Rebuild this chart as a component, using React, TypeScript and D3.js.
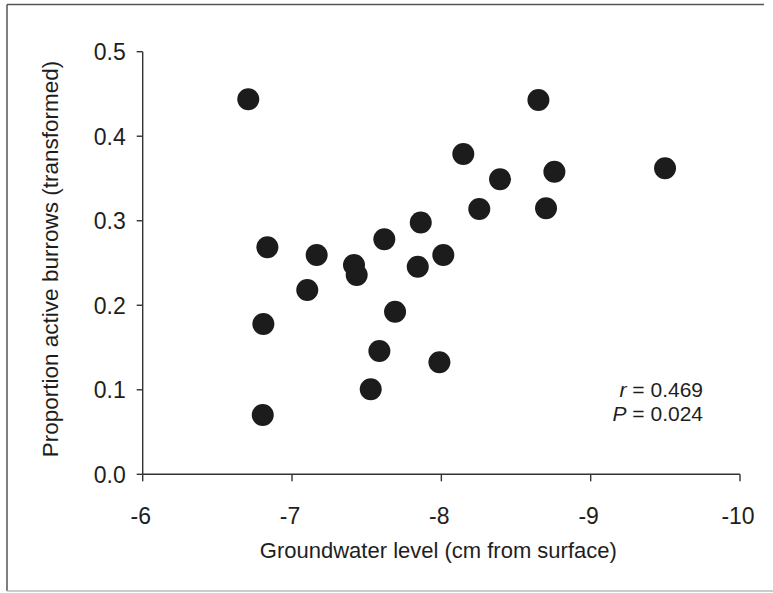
import React from "react";
import * as d3 from "d3";

const groundwater: number[] = [
  -6.707, -8.65, -8.147, -9.498, -8.393, -8.757, -8.254, -8.701, -7.862, -7.618,
  -6.835, -7.165, -7.415, -7.433, -7.842, -8.013, -7.102, -6.808, -7.69, -7.585,
  -7.987, -7.527, -6.804,
];
const activeBurrows: number[] = [
  0.4437, 0.4429, 0.379, 0.362, 0.349, 0.358, 0.314, 0.3147, 0.298, 0.278,
  0.2686, 0.2595, 0.2476, 0.2358, 0.2456, 0.2595, 0.218, 0.1778, 0.1924, 0.1459,
  0.1325, 0.1006, 0.0702,
];
const xTicks: number[] = [-6, -7, -8, -9, -10];
const yTicks: number[] = [0, 0.1, 0.2, 0.3, 0.4, 0.5];
const xLabel = "Groundwater level (cm from surface)";
const yLabel = "Proportion active burrows (transformed)";
const statR = "0.469";
const statP = "0.024";

const W = 773;
const H = 593;
const FONT = "'Liberation Sans', Arial, Helvetica, sans-serif";
const INK = "#1e1e1e";

export default function App() {
  const x = d3.scaleLinear().domain([-6, -10]).range([142.7, 740]);
  const y = d3.scaleLinear().domain([0, 0.5]).range([474.3, 51.7]);
  const points = groundwater.map((g, i) => ({ g, p: activeBurrows[i] }));
  const x0 = x(-6);
  const y0 = y(0);

  return (
    <svg
      width={W}
      height={H}
      style={{ position: "absolute", left: 0, top: 0, background: "#fff" }}
      fontFamily={FONT}
    >
      <rect x={0} y={0} width={W} height={H} fill="#fff" />
      {/* outer frame */}
      <line x1={7} y1={4.5} x2={764} y2={4.5} stroke="#555" strokeWidth={1.5} />
      <line x1={7} y1={4.5} x2={7} y2={591} stroke="#555" strokeWidth={1.5} />
      <line x1={7} y1={591} x2={773} y2={591} stroke="#bbb" strokeWidth={1.5} />

      {/* y axis */}
      <line x1={x0} y1={y(0.5)} x2={x0} y2={y0} stroke="#333" strokeWidth={1.4} />
      {yTicks.map((t) => (
        <g key={"y" + t}>
          <line x1={x0 - 6} x2={x0} y1={y(t)} y2={y(t)} stroke="#333" strokeWidth={1.4} />
          <text
            x={x0 - 17}
            y={y(t)}
            dy="0.36em"
            textAnchor="end"
            fontSize={23}
            fill={INK}
          >
            {t.toFixed(1)}
          </text>
        </g>
      ))}

      {/* x axis */}
      <line x1={x0} y1={y0} x2={x(-10)} y2={y0} stroke="#333" strokeWidth={1.4} />
      {xTicks.map((t) => (
        <g key={"x" + t}>
          <line x1={x(t)} x2={x(t)} y1={y0} y2={y0 + 7} stroke="#333" strokeWidth={1.4} />
          <text x={x(t) - 2} y={523.5} textAnchor="middle" fontSize={23} fill={INK}>
            {String(t)}
          </text>
        </g>
      ))}

      {/* axis titles */}
      <text x={(x0 + x(-10)) / 2 - 3} y={558} textAnchor="middle" fontSize={22} fill={INK}>
        {xLabel}
      </text>
      <text
        transform={`translate(57.5,${259}) rotate(-90)`}
        textAnchor="middle"
        fontSize={22.5}
        fill={INK}
      >
        {yLabel}
      </text>

      {/* points */}
      {points.map((d, i) => (
        <circle key={i} cx={x(d.g)} cy={y(d.p)} r={11} fill="#1c1c1c" />
      ))}

      {/* stats */}
      <text x={703} y={397} textAnchor="end" fontSize={21} fill={INK}>
        <tspan fontStyle="italic">r</tspan>
        {" = " + statR}
      </text>
      <text x={703} y={421} textAnchor="end" fontSize={21} fill={INK}>
        <tspan fontStyle="italic">P</tspan>
        {" = " + statP}
      </text>
    </svg>
  );
}
